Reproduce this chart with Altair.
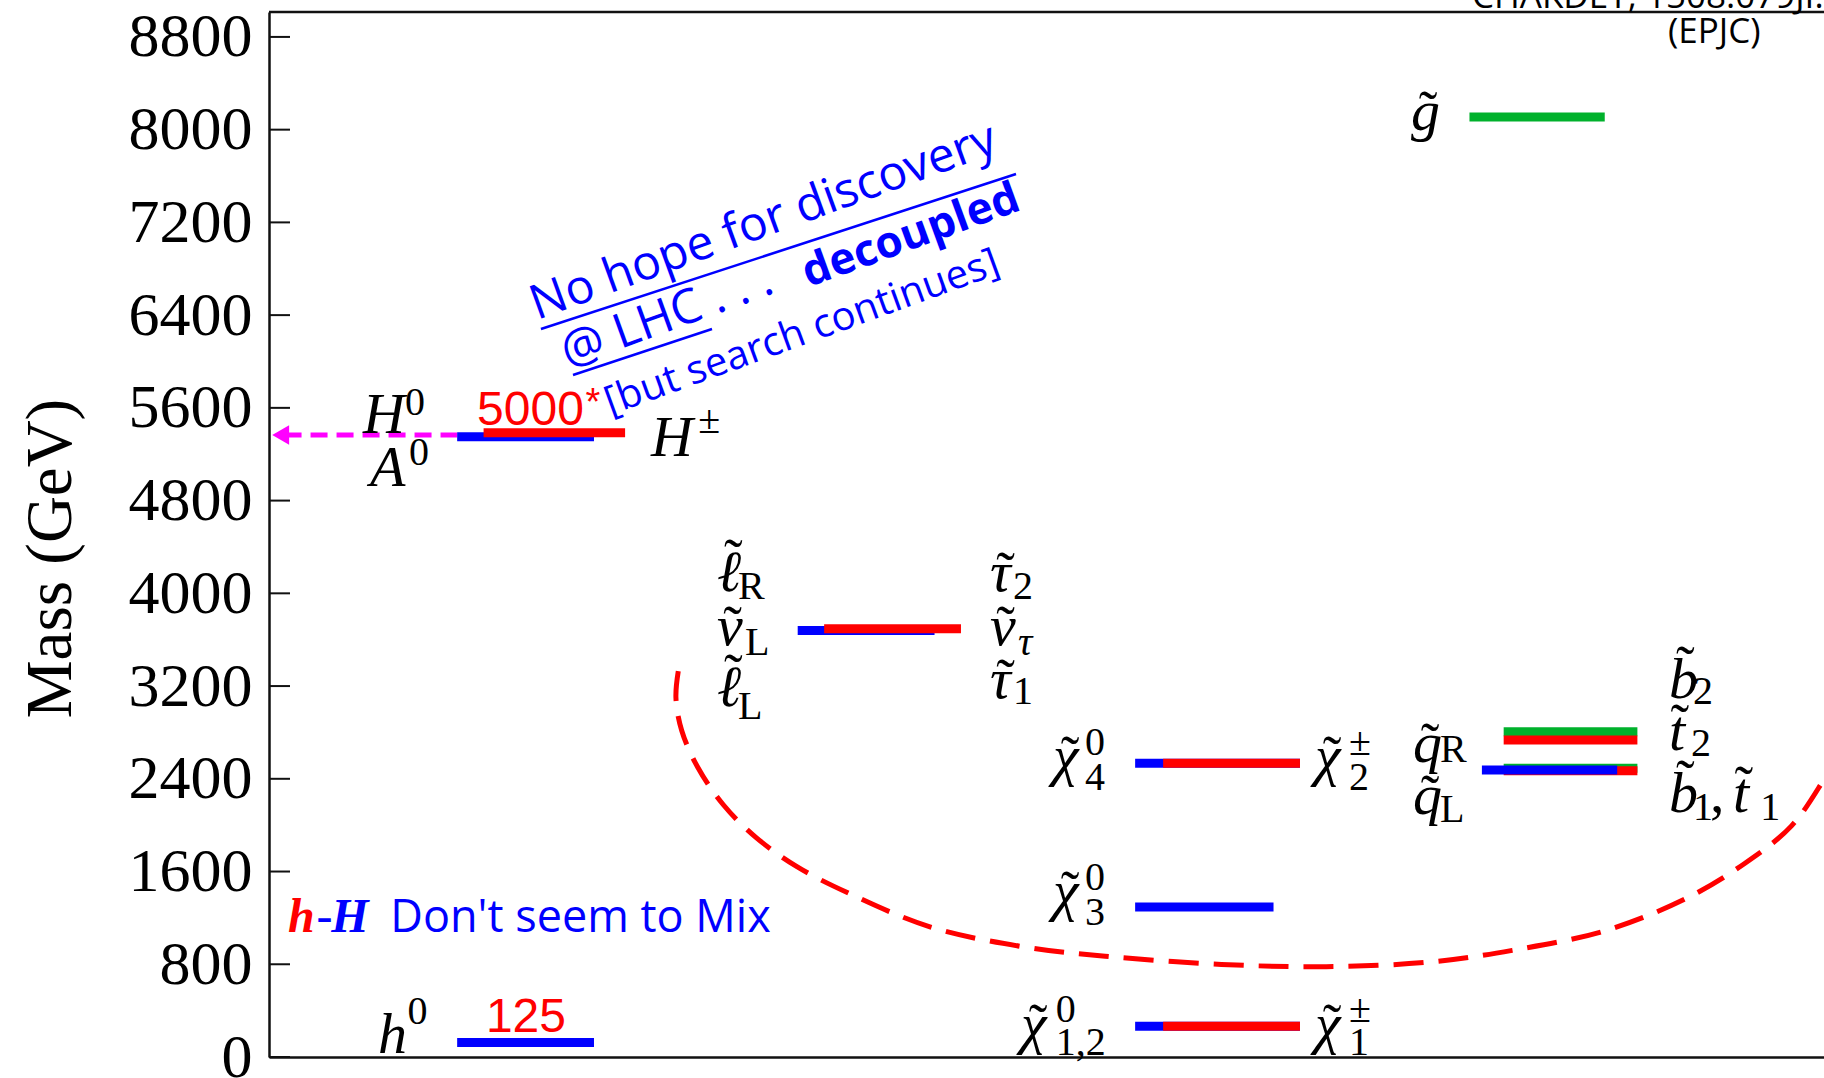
import altair as alt
import pandas as pd

# ---------------------------------------------------------------- data
# y-axis tick values (GeV)
mass_ticks = [0, 800, 1600, 2400, 3200, 4000, 4800, 5600, 6400, 7200, 8000, 8800]
Y_TOP = 9015

# spectrum levels, in drawing order (later rows sit on top)
level_state = ["h0", "H0/A0", "H+-",
               "slepton_L", "stau",
               "chi0_4", "chi+-_2", "chi0_3", "chi0_12", "chi+-_1",
               "sbottom_1", "stop_1", "squark_L", "sbottom_2", "stop_2",
               "gluino"]
level_mass = [125, 5350, 5385,
              3680, 3695,
              2535, 2535, 1293, 266, 266,
              2492, 2470, 2476, 2806, 2735,
              8110]
level_family = ["blue", "blue", "red",
                "blue", "red",
                "blue", "red", "blue", "blue", "red",
                "green", "red", "blue", "green", "red",
                "green"]

# horizontal slot of each level in diagram units (0..100 across the frame)
slot_x0 = [12.1, 12.1, 13.8, 34.0, 35.7, 55.7, 57.5, 55.7, 55.7, 57.5,
           79.4, 79.4, 78.0, 79.4, 79.4, 77.2]
slot_x1 = [20.9, 20.9, 22.9, 42.8, 44.5, 66.3, 66.3, 64.6, 66.3, 66.3,
           88.0, 88.0, 86.7, 88.0, 88.0, 85.9]

levels = pd.DataFrame({"state": level_state, "mass": level_mass,
                       "family": level_family, "x0": slot_x0, "x1": slot_x1})

# ---------------------------------------------------------------- scales / axes
xs = alt.Scale(domain=[0, 100], nice=False, zero=False)
ys = alt.Scale(domain=[0, Y_TOP], nice=False, zero=False)
colors = alt.Scale(domain=["blue", "red", "green"],
                   range=["#0000ff", "#ff0000", "#00b12c"])

SERIF = "Liberation Serif"
HAND = "Open Sans"

AX = alt.Axis(domain=True, ticks=False, labels=False, grid=False, title=None,
              domainColor="#111", domainWidth=2.5)
AY = alt.Axis(values=mass_ticks, format="d", ticks=False, grid=False,
              domainColor="#111", domainWidth=2.5,
              labelFont=SERIF, labelFontSize=62, labelColor="#000",
              labelPadding=17, labelFlush=False, labelOverlap=False,
              title="Mass (GeV)", titleFont=SERIF, titleFontSize=65,
              titleFontWeight="normal", titleColor="#000",
              titleAngle=270, titleX=-219, titleY=546,
              titleAlign="center", titleBaseline="middle")


def X(field):
    return alt.X(field, scale=xs, axis=AX)


def Y(field):
    return alt.Y(field, scale=ys, axis=AY)


def text_layer(rows, **mark):
    df = pd.DataFrame(rows, columns=["text", "x", "y"])
    props = dict(align="left", baseline="alphabetic")
    props.update(mark)
    return alt.Chart(df).mark_text(**props).encode(
        text="text:N", x=X("x:Q"), y=Y("y:Q"))


# ---------------------------------------------------------------- frame
tick_df = pd.DataFrame({"y": mass_ticks, "x": 0.0, "x2": 1.35})
ticks_in = alt.Chart(tick_df).mark_rule(color="#111", strokeWidth=2).encode(
    x=X("x:Q"), x2="x2:Q", y=Y("y:Q"))

top_df = pd.DataFrame({"x": [0.0], "x2": [100.0], "y": [Y_TOP]})
top_border = alt.Chart(top_df).mark_rule(color="#111", strokeWidth=2.5).encode(
    x=X("x:Q"), x2="x2:Q", y=Y("y:Q"))

# ---------------------------------------------------------------- levels
bars = alt.Chart(levels).mark_rule(strokeWidth=9, strokeCap="butt").encode(
    x=X("x0:Q"), x2="x1:Q", y=Y("mass:Q"),
    color=alt.Color("family:N", scale=colors, legend=None),
)

# heavy Higgs pointer to the axis
arrow_df = pd.DataFrame({"x": [1.0], "x2": [12.09], "y": [5366]})
arrow_line = alt.Chart(arrow_df).mark_rule(
    color="#ff00ff", strokeWidth=5, strokeDash=[17, 9], strokeCap="butt"
).encode(x=X("x:Q"), x2="x2:Q", y=Y("y:Q"))
head_df = pd.DataFrame({"x": [0.75], "y": [5366]})
arrow_head = alt.Chart(head_df).mark_point(
    shape="triangle-left", filled=True, color="#ff00ff", size=380, opacity=1
).encode(x=X("x:Q"), y=Y("y:Q"))

# dashed loop around the light sparticles
loop_x = [26.32, 26.17, 26.54, 27.59, 29.23, 31.33, 33.95, 37.31, 42.55, 48.53,
          53.77, 61.25, 67.99, 74.72, 79.95, 85.94, 91.18, 94.92, 97.91, 100.0, 101.3]
loop_y = [3328, 3097, 2817, 2495, 2174, 1893, 1642, 1411, 1121, 950,
          870, 799, 779, 820, 920, 1090, 1371, 1672, 1994, 2395, 2696]
loop_df = pd.DataFrame({"x": loop_x, "y": loop_y, "i": range(len(loop_x))})
loop = alt.Chart(loop_df).mark_line(
    color="#ff0000", strokeWidth=5, strokeDash=[30, 15], interpolate="catmull-rom"
).encode(x=X("x:Q"), y=Y("y:Q"), order=alt.Order("i:Q"))

# ---------------------------------------------------------------- particle names
# (glyph, x, baseline, tilde?, tilde x-offset, tilde lift)
symbols = [
    ("h", 7.01, 34, False, 0, 0),
    ("H", 6.05, 5383, False, 0, 0),
    ("A", 6.50, 4926, False, 0, 0),
    ("H", 24.57, 5185, False, 0, 0),
    ("ℓ", 28.81, 4020, True, 1.05, 110),
    ("ν", 28.81, 3554, True, 1.0, 0),
    ("ℓ", 28.81, 3028, True, 1.05, 110),
    ("τ", 46.37, 4020, True, 1.0, 0),
    ("ν", 46.37, 3554, True, 1.0, 0),
    ("τ", 46.37, 3097, True, 1.0, 0),
    ("χ", 50.42, 2433, True, 1.1, 0),
    ("χ", 67.27, 2433, True, 1.1, 0),
    ("χ", 50.42, 1268, True, 1.1, 0),
    ("χ", 48.36, 121, True, 1.1, 0),
    ("χ", 67.27, 121, True, 1.1, 0),
    ("q", 73.57, 2545, True, 1.1, 0),
    ("q", 73.57, 2096, True, 1.1, 0),
    ("b", 90.03, 3097, True, 1.05, 110),
    ("t", 90.03, 2648, True, 0.7, 60),
    ("b", 90.03, 2114, True, 1.05, 110),
    ("t", 94.15, 2114, True, 0.7, 60),
    ("g", 73.44, 7997, True, 1.1, 0),
]
names = text_layer([(g, x, y) for g, x, y, *_ in symbols],
                   font=SERIF, fontSize=58, fontStyle="italic", color="#000")
tildes = text_layer([("\u02dc", x + dx, y + dy)
                     for g, x, y, has, dx, dy in symbols if has],
                    font=SERIF, fontSize=56, align="center", color="#000")

scripts = text_layer([
    ("0", 8.9, 285), ("0", 8.75, 5538), ("0", 9.0, 5107), ("±", 27.6, 5383),
    ("R", 30.16, 3951), ("L", 30.61, 3468), ("L", 30.16, 2916),
    ("2", 47.85, 3951), ("1", 47.85, 3045),
    ("0", 52.48, 2605), ("4", 52.48, 2303), ("±", 69.45, 2605), ("2", 69.45, 2303),
    ("0", 52.48, 1441), ("3", 52.48, 1139),
    ("0", 50.6, 302), ("1,2", 50.6, 17), ("±", 69.45, 302), ("1", 69.45, 17),
    ("R", 75.31, 2545), ("L", 75.31, 2027),
    ("2", 91.58, 3045), ("2", 91.45, 2597), ("1", 91.58, 2045), ("1", 95.9, 2045),
], font=SERIF, fontSize=40, color="#000")

script_tau = text_layer([("τ", 48.17, 3468)], font=SERIF, fontSize=40,
                        fontStyle="italic", color="#000")
comma = text_layer([(",", 92.67, 2114)], font=SERIF, fontSize=58, color="#000")

# ---------------------------------------------------------------- annotations
values_red = text_layer([("5000", 13.38, 5452), ("125", 13.95, 216)],
                        font="Liberation Sans", fontSize=48, color="#ff0000")
star = text_layer([("*", 20.35, 5540)], font="Liberation Sans", fontSize=38,
                  color="#ff0000")

slogan = text_layer([("No hope for discovery", 17.23, 6358),
                     ("@ LHC   . . .", 19.23, 5944)],
                    font=HAND, fontSize=48, color="#0000ff", angle=340)
slogan_bold = text_layer([("decoupled", 34.7, 6640)], font=HAND, fontSize=44,
                         fontWeight="bold", color="#0000ff", angle=340)
slogan_small = text_layer([("[but search continues]", 21.95, 5536)], font=HAND,
                          fontSize=40, color="#0000ff", angle=340)

ul_df = pd.DataFrame({"x": [17.49, 19.55], "y": [6280, 5883],
                      "x2": [48.04, 28.49], "y2": [7617, 6280]})
underlines = alt.Chart(ul_df).mark_rule(color="#0000ff", strokeWidth=2.5).encode(
    x=X("x:Q"), y=Y("y:Q"), x2="x2:Q", y2="y2:Q")

mix_h = text_layer([("h", 1.22, 1078)], font=SERIF, fontSize=48,
                   fontStyle="italic", fontWeight="bold", color="#ff0000")
mix_dash = text_layer([("-", 3.05, 1078)], font=SERIF, fontSize=48, color="#0000ff")
mix_H = text_layer([("H", 4.0, 1078)], font=SERIF, fontSize=48,
                   fontStyle="italic", fontWeight="bold", color="#0000ff")
mix_text = text_layer([("Don't seem to Mix", 7.8, 1078)], font=HAND,
                      fontSize=45, color="#0000ff")

source = text_layer([("CHAKDEY, 1508.079JI.", 77.36, 9052), ("(EPJC)", 89.97, 8747)],
                    font=HAND, fontSize=35, color="#000")

chart = alt.layer(
    ticks_in, top_border, bars, arrow_line, arrow_head,
    names, tildes, scripts, script_tau, comma,
    values_red, star, slogan, slogan_bold, slogan_small, underlines,
    mix_h, mix_dash, mix_H, mix_text, source, loop,
).properties(
    width=1555, height=1045,
    autosize=alt.AutoSizeParams(type="none"),
    padding={"left": 269, "top": 12, "right": 0, "bottom": 21},
    background="white",
).configure_view(stroke=None)

chart.save("out.html", embed_options={"renderer": "svg", "actions": False})
